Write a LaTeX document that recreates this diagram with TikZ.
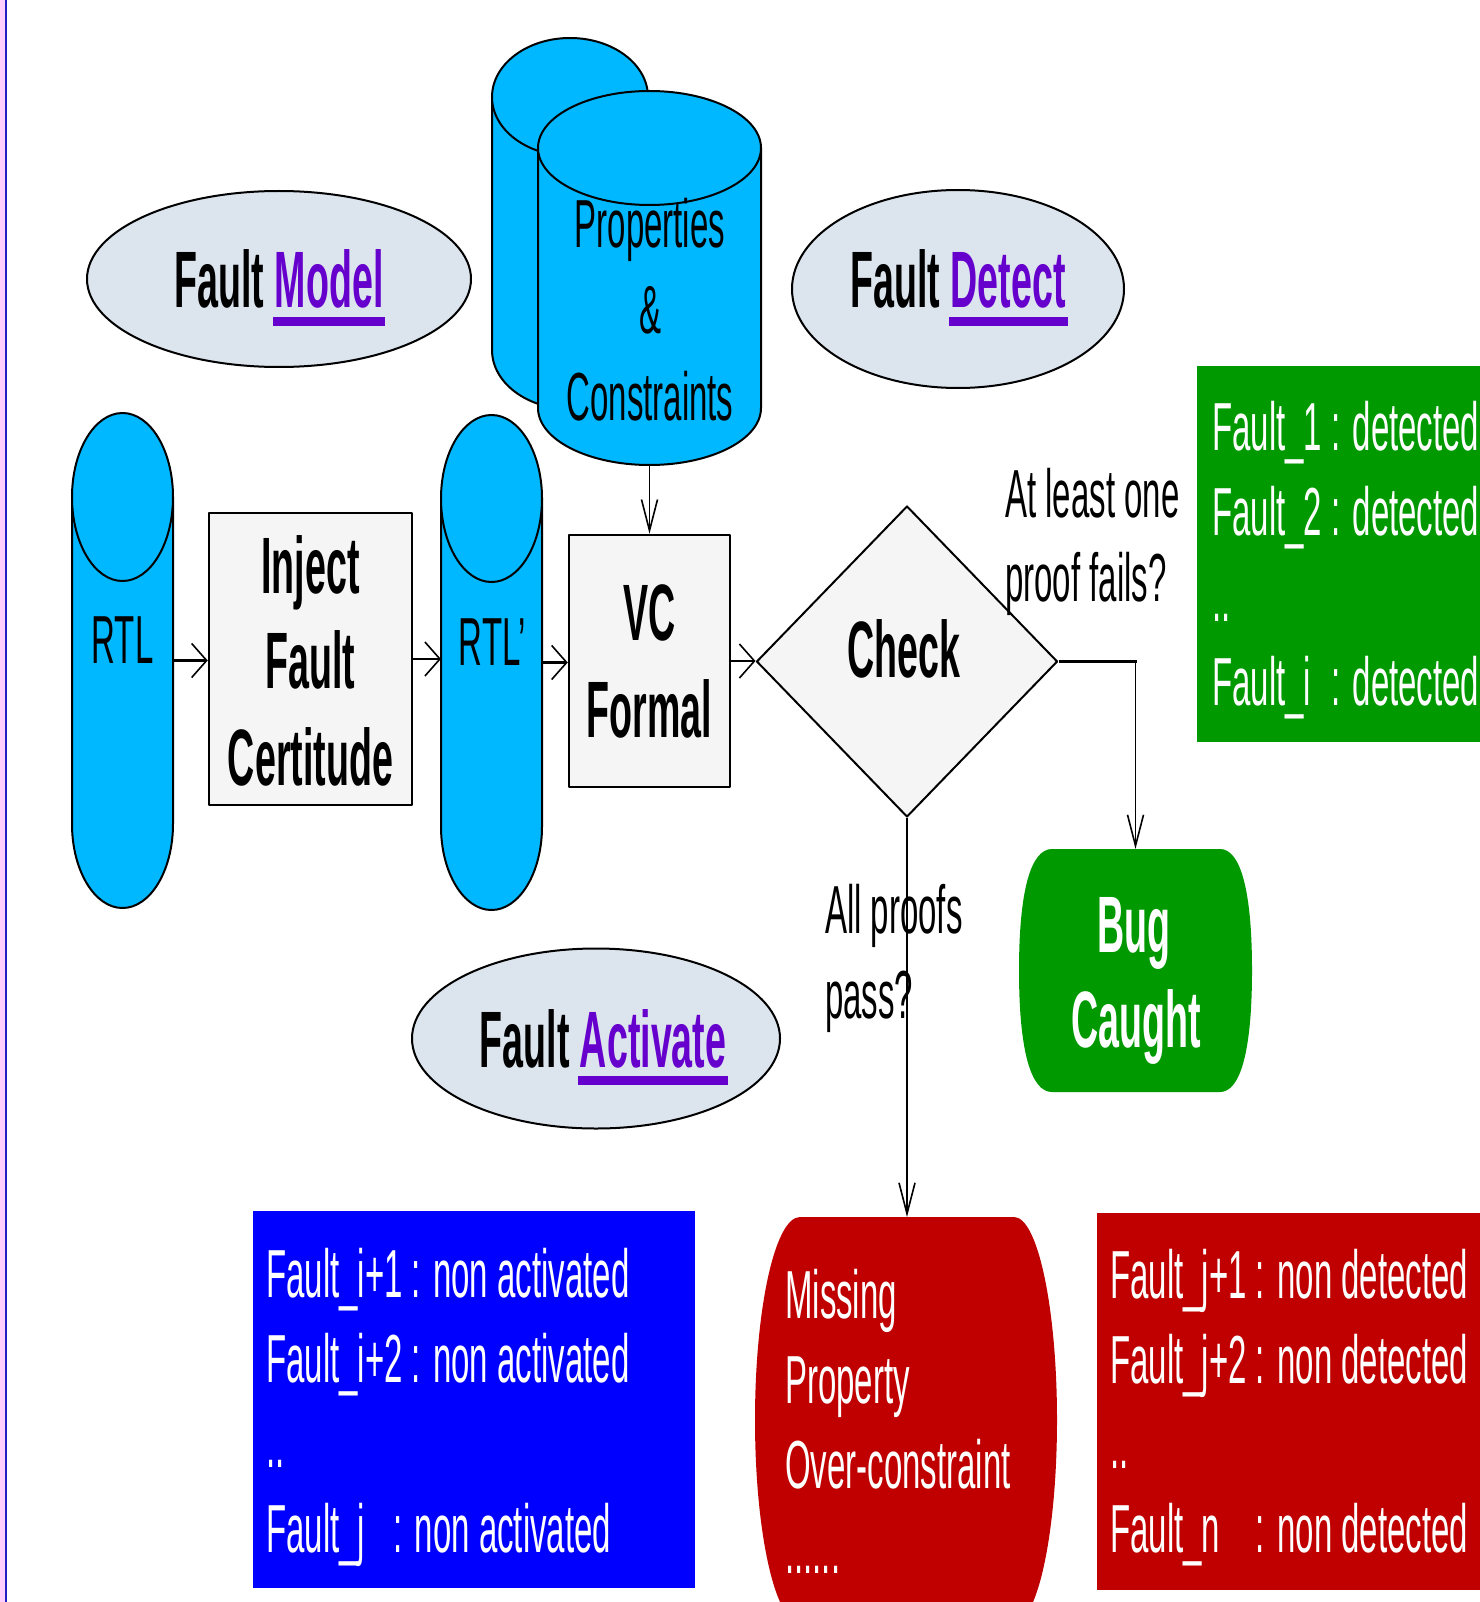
\documentclass[tikz,border=0pt]{standalone}
\usepackage{fontspec}
\usetikzlibrary{shapes.geometric,arrows.meta}
\newfontfamily\rf[FakeStretch=0.485]{Liberation Sans}
\newfontfamily\bfn[FakeStretch=0.47]{Liberation Sans}
\definecolor{cyanc}{HTML}{00B8FF}
\definecolor{ellfill}{HTML}{DCE4EE}
\definecolor{ulpurple}{HTML}{6600CC}
\definecolor{boxgrey}{HTML}{F5F5F5}
\definecolor{grn}{HTML}{009900}
\definecolor{redc}{HTML}{C00000}
\definecolor{bluec}{HTML}{0000FF}
\definecolor{pinkstrip}{HTML}{FFD0FF}
\definecolor{edgeblue}{HTML}{2020C0}
\newsavebox\ulbox
\newcommand\ulword[1]{\sbox\ulbox{#1}\rlap{\hspace*{-2pt}\color{ulpurple}\rule[-18pt]{\dimexpr\wd\ulbox+4pt\relax}{9pt}}\usebox\ulbox}
\newcommand\mycyl[5]{%
  \filldraw[cylsty] ({#1-#4},#2) -- ({#1-#4},#3)
    .. controls ({#1-#4},{#3+0.5523*#5}) and ({#1-0.5523*#4},{#3+#5}) .. (#1,{#3+#5})
    .. controls ({#1+0.5523*#4},{#3+#5}) and ({#1+#4},{#3+0.5523*#5}) .. ({#1+#4},#3)
    -- ({#1+#4},#2) -- cycle;
  \filldraw[cylsty] (#1,#2) ellipse [x radius=#4pt, y radius=#5pt];
}
\tikzset{
  cylsty/.style={fill=cyanc, draw=black, line width=2pt},
  ell/.style={ellipse, draw=black, fill=ellfill, line width=2pt, inner sep=0pt},
  procbox/.style={rectangle, draw=black, fill=boxgrey, line width=2.5pt, inner sep=0pt},
  ghost/.style={rectangle, inner sep=0pt, outer sep=0pt},
  rt/.style={font=\rf\fontsize{68}{85}\selectfont, inner sep=0pt, anchor=base},
  rtw/.style={rt, anchor=base west},
  wt/.style={rt, anchor=base west, text=white},
  bt/.style={font=\bfn\bfseries\fontsize{80}{96}\selectfont, inner sep=0pt, anchor=base},
  harrow/.style={-{Straight Barb[length=15pt,width=34pt,line width=1.6pt]}, line width=2.6pt},
  varrow/.style={-{Straight Barb[length=31pt,width=16pt,line width=1.6pt]}, line width=1.9pt},
  hline/.style={line width=2.6pt},
}
\begin{document}
\begin{tikzpicture}[x=1pt, y=-1pt, line join=round]
\useasboundingbox (0,0) rectangle (1479,1602);
\fill[white] (0,0) rectangle (1479,1602);
% left edge
\fill[pinkstrip] (0,0) rectangle (5,1602);
\draw[edgeblue, line width=2.3pt] (6.2,0) -- (6.2,1602);

% ellipses
\node[ell, minimum width=384pt, minimum height=176pt] (fm) at (279,279) {};
\node[ell, minimum width=332pt, minimum height=198pt] (fd) at (958,289) {};
\node[ell, minimum width=368pt, minimum height=180pt] (fa) at (596,1038.5) {};
\node[bt] (fmt) at (279,308) {Fault \ulword{\color{ulpurple}Model}};
\node[bt] (fdt) at (958,308) {Fault \ulword{\color{ulpurple}Detect}};
\node[bt] (fat) at (603,1067) {Fault \ulword{\color{ulpurple}Activate}};

% properties cylinders
\mycyl{570}{97}{350}{78}{59}
\mycyl{649.5}{148}{408}{111.5}{57}
\node[ghost, minimum width=223pt, minimum height=374pt] (prop) at (649.5,278) {};
\node[rt] (prop1) at (650,248) {Properties};
\node[rt] (prop2) at (650,333) {\&};
\node[rt] (prop3) at (650,420) {Constraints};

% RTL cylinders
\mycyl{122.5}{497}{824}{50.5}{84}
\node[ghost, minimum width=101pt, minimum height=495pt] (rtl) at (122.5,660.5) {};
\node[rt] (rtlt) at (122.5,663) {RTL};
\mycyl{491.5}{498.5}{826.5}{50.5}{83.5}
\node[ghost, minimum width=101pt, minimum height=495pt] (rtlp) at (491.5,662.5) {};
\node[rt] (rtlpt) at (492.5,665) {RTL’};

% process boxes
\node[procbox, minimum width=203pt, minimum height=292pt] (inj) at (310.5,659) {};
\node[bt] (inj1) at (310.5,593) {Inject};
\node[bt] (inj2) at (310.5,688) {Fault};
\node[bt] (inj3) at (310.5,785) {Certitude};
\node[procbox, minimum width=161pt, minimum height=252pt] (vc) at (649.5,661) {};
\node[bt] (vc1) at (649.5,640) {VC};
\node[bt] (vc2) at (649.5,737) {Formal};

% check diamond
\node[diamond, draw=black, fill=boxgrey, line width=2pt, minimum width=301pt, minimum height=311pt, inner sep=0pt] (check) at (907,661.5) {};
\node[bt] (checkt) at (904,677) {Check};

% Bug caught
\fill[grn] (1052,849) -- (1220,849) .. controls (1240.8,849) and (1252,891.5) .. (1252,970.5)
  .. controls (1252,1049.5) and (1240.8,1092) .. (1220,1092) -- (1052,1092)
  .. controls (1030.5,1092) and (1019,1049.5) .. (1019,970.5)
  .. controls (1019,891.5) and (1030.5,849) .. (1052,849) -- cycle;
\node[ghost, minimum width=233pt, minimum height=243pt] (bug) at (1135.5,970.5) {};
\node[bt, text=white] (bug1) at (1134,952) {Bug};
\node[bt, text=white] (bug2) at (1136,1047) {Caught};

% Missing property
\fill[redc] (800,1217) -- (1014,1217) .. controls (1037.7,1217) and (1057,1308) .. (1057,1420)
  .. controls (1057,1532) and (1037.7,1623) .. (1014,1623) -- (800,1623)
  .. controls (775.1,1623) and (755,1532) .. (755,1420)
  .. controls (755,1308) and (775.1,1217) .. (800,1217) -- cycle;
\node[ghost, minimum width=302pt, minimum height=406pt] (miss) at (906,1420) {};
\node[wt] (miss1) at (785,1318) {Missing};
\node[wt] (miss2) at (785,1403) {Property};
\node[wt] (miss3) at (785,1488) {Over-constraint};
\node[wt] (miss4) at (785,1573) {......};

% list boxes
\node[ghost, fill=grn, minimum width=300pt, minimum height=376pt, anchor=north west] (det) at (1197,366) {};
\node[wt] (det1) at (1212,450) {Fault\_1 : detected};
\node[wt] (det2) at (1212,535) {Fault\_2 : detected};
\node[wt] (det3) at (1212,621) {..};
\node[wt] (det4) at (1212,705) {\rlap{Fault\_i}\phantom{Fault\_1} : detected};

\node[ghost, fill=bluec, minimum width=442pt, minimum height=377pt, anchor=north west] (nact) at (253,1211) {};
\node[wt] (nact1) at (266,1297) {Fault\_i+1 : non activated};
\node[wt] (nact2) at (266,1382) {Fault\_i+2 : non activated};
\node[wt] (nact3) at (266,1467) {..};
\node[wt] (nact4) at (266,1552) {\rlap{Fault\_j}\phantom{Fault\_i+} : non activated};

\node[ghost, fill=redc, minimum width=400pt, minimum height=377pt, anchor=north west] (ndet) at (1097,1213) {};
\node[wt] (ndet1) at (1110,1298) {Fault\_j+1 : non detected};
\node[wt] (ndet2) at (1110,1383) {Fault\_j+2 : non detected};
\node[wt] (ndet3) at (1110,1468) {..};
\node[wt] (ndet4) at (1110,1552) {\rlap{Fault\_n}\phantom{Fault\_j+1} : non detected};

% labels
\node[rtw] (fail1) at (1005,517) {At least one};
\node[rtw] (fail2) at (1005,601) {proof fails?};
\node[rtw] (pass1) at (825,933) {All proofs};
\node[rtw] (pass2) at (825,1018) {pass?};

% connectors
\draw[harrow] (rtl.east) -- (rtl.east -| inj.west);
\draw[harrow] (inj.east) -- (inj.east -| rtlp.west);
\draw[harrow] (rtlp.east) -- (rtlp.east -| vc.west);
\draw[harrow] (vc.east) -- (vc.east -| check.west);
\draw[varrow] (prop.south) -- (prop.south |- vc.north);
\coordinate (bend) at (check.east -| bug.north);
\draw[hline] (check.east) -- ([xshift=1pt]bend);
\draw[varrow] (bend) -- (bug.north);
\draw[varrow] (check.south) -- (check.south |- miss.north);
\end{tikzpicture}
\end{document}
